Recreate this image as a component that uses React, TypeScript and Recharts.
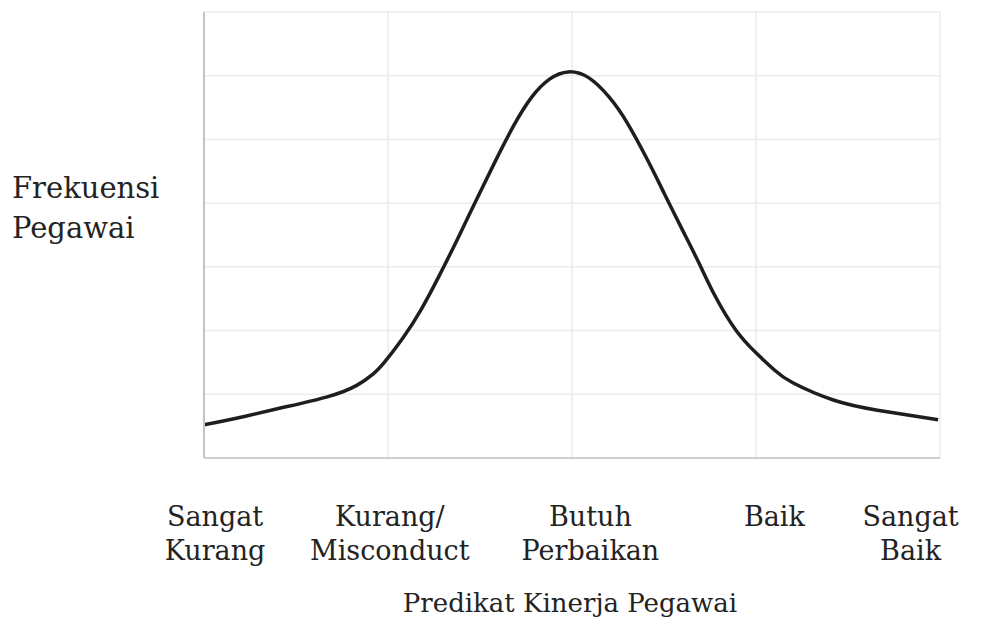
import { LineChart, Line, XAxis, YAxis, CartesianGrid } from "recharts";

// titik kurva distribusi (x: 0..4 sepanjang sumbu, y: frekuensi relatif)
const curveX = [
  0.0, 0.2, 0.41, 0.67, 0.83, 0.92, 0.98, 1.08, 1.18, 1.28, 1.38, 1.48, 1.58,
  1.68, 1.78, 1.88, 1.98, 2.09, 2.2, 2.3, 2.41, 2.5, 2.6, 2.69, 2.78, 2.89,
  3.0, 3.1, 3.2, 3.42, 3.66, 3.99,
];
const curveY = [
  0.52, 0.64, 0.78, 0.96, 1.14, 1.32, 1.5, 1.88, 2.33, 2.87, 3.45, 4.05, 4.64,
  5.2, 5.66, 5.95, 6.06, 5.97, 5.67, 5.26, 4.68, 4.16, 3.58, 3.06, 2.53, 2.01,
  1.65, 1.38, 1.18, 0.91, 0.75, 0.6,
];

const gridTicksX = [0, 1, 2, 3, 4];
const gridTicksY = [0, 1, 2, 3, 4, 5, 6, 7];

const categories = [
  ["Sangat", "Kurang"],
  ["Kurang/", "Misconduct"],
  ["Butuh", "Perbaikan"],
  ["Baik"],
  ["Sangat", "Baik"],
];
const categoryPos = [0.06, 1.01, 2.1, 3.1, 3.84];

const yTitle = ["Frekuensi", "Pegawai"];
const xTitle = "Predikat Kinerja Pegawai";

const data = curveX.map((x, i) => ({ x, y: curveY[i] }));

const FONT = "'DejaVu Serif', serif";
const TEXT = "#232323";

function CategoryTick(props: {
  x?: number;
  y?: number;
  payload?: { value: number };
}) {
  const { x = 0, y = 0, payload } = props;
  const idx = categoryPos.indexOf(payload?.value ?? -1);
  const lines = categories[idx] ?? [];
  return (
    <text
      x={x}
      y={y + 60}
      textAnchor="middle"
      fontFamily={FONT}
      fontSize={27}
      fill={TEXT}
    >
      {lines.map((l, i) => (
        <tspan key={i} x={x} dy={i === 0 ? 0 : 34}>
          {l}
        </tspan>
      ))}
    </text>
  );
}

// sumbu Y tanpa angka, tapi tick tetap dihitung untuk garis grid
const EmptyTick = () => <g />;

export default function App() {
  return (
    <div style={{ position: "fixed", left: 0, top: 0, background: "#fff" }}>
      <LineChart
        width={984}
        height={620}
        data={data}
        margin={{ top: 12, right: 44, left: 0, bottom: 0 }}
      >
        <CartesianGrid xAxisId="grid" stroke="#ebebeb" strokeWidth={1.5} />
        <XAxis
          xAxisId="grid"
          dataKey="x"
          type="number"
          domain={[0, 4]}
          ticks={gridTicksX}
          height={0}
          hide
        />
        <XAxis
          xAxisId="labels"
          dataKey="x"
          type="number"
          domain={[0, 4]}
          ticks={categoryPos}
          height={162}
          tickLine={false}
          axisLine={{ stroke: "#cfcfcf", strokeWidth: 2 }}
          tick={<CategoryTick />}
          interval={0}
          label={{
            content: ({ viewBox }: { viewBox?: { x?: number; y?: number; width?: number } }) => {
              const cx = (viewBox?.x ?? 0) + (viewBox?.width ?? 0) / 2;
              return (
                <text
                  x={cx - 2}
                  y={(viewBox?.y ?? 0) + 154}
                  textAnchor="middle"
                  fontFamily={FONT}
                  fontSize={26}
                  fill={TEXT}
                >
                  {xTitle}
                </text>
              );
            },
          }}
        />
        <YAxis
          type="number"
          domain={[0, 7]}
          ticks={gridTicksY}
          interval={0}
          width={204}
          tick={EmptyTick}
          tickLine={false}
          axisLine={{ stroke: "#c4c4c4", strokeWidth: 2 }}
          label={{
            content: ({ viewBox }: { viewBox?: { y?: number; height?: number } }) => {
              const vy = (viewBox?.y ?? 0) + (viewBox?.height ?? 0) / 2;
              return (
                <text fontFamily={FONT} fontSize={29} fill={TEXT}>
                  {yTitle.map((t, i) => (
                    <tspan key={i} x={12} y={vy - 37 + i * 40}>
                      {t}
                    </tspan>
                  ))}
                </text>
              );
            },
          }}
        />
        <Line
          xAxisId="grid"
          dataKey="y"
          type="natural"
          stroke="#1e1e1e"
          strokeWidth={3.5}
          dot={false}
          isAnimationActive={false}
        />
      </LineChart>
    </div>
  );
}
